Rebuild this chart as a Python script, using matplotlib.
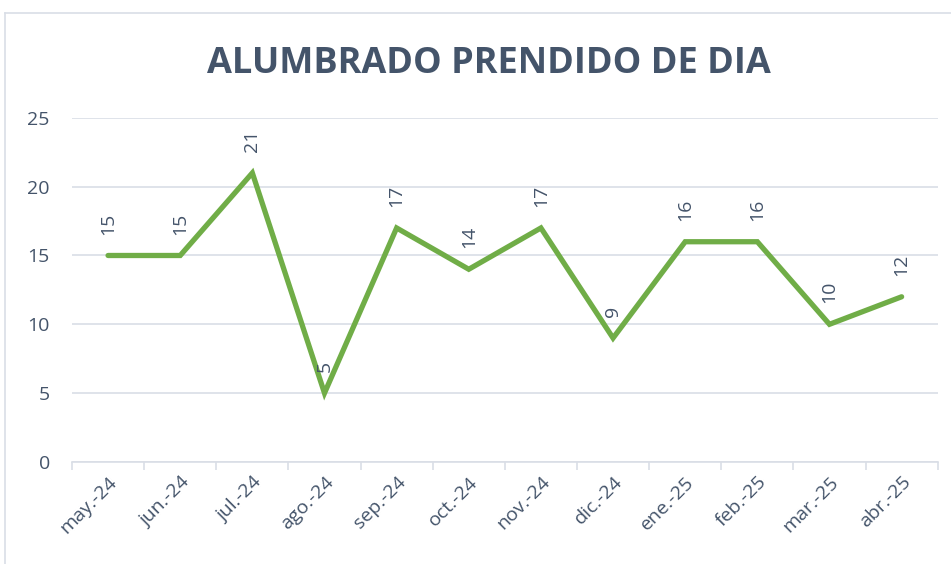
import matplotlib
matplotlib.use("Agg")
import matplotlib.pyplot as plt
from matplotlib.lines import Line2D

# data
months = ["may.-24", "jun.-24", "jul.-24", "ago.-24", "sep.-24", "oct.-24",
          "nov.-24", "dic.-24", "ene.-25", "feb.-25", "mar.-25", "abr.-25"]
values = [15, 15, 21, 5, 17, 14, 17, 9, 16, 16, 10, 12]
title = "ALUMBRADO PRENDIDO DE DIA"

text_col = "#44546A"
grid_col = "#D9DEE6"
line_col = "#70AD47"

plt.rcParams['font.family'] = ['Open Sans', 'DejaVu Sans']

fig = plt.figure(figsize=(9.51, 5.64), dpi=100)
ax = fig.add_axes([0.0757, 0.181, 0.9103, 0.610])

x = list(range(len(months)))
ax.plot(x, values, color=line_col, lw=3.8, solid_joinstyle='miter', solid_capstyle='round', zorder=3)

# data labels, rotated
for xi, v in zip(x, values):
    ax.annotate(str(v), (xi, v), xytext=(0, 15), textcoords='offset points',
                rotation=90, ha='center', va='bottom', fontsize=14, color=text_col)

ax.set_xlim(-0.5, len(months) - 0.5)
ax.set_ylim(0, 25)
ax.set_yticks([0, 5, 10, 15, 20, 25])
ax.yaxis.grid(True, color=grid_col, lw=1.2)
ax.set_axisbelow(True)
for s in ["left", "right", "top"]:
    ax.spines[s].set_visible(False)
ax.spines["bottom"].set_color(grid_col)
ax.spines["bottom"].set_linewidth(1.2)

ax.tick_params(axis='y', length=0, pad=16, labelsize=14, labelcolor=text_col)
ax.set_xticks(x)
ax.set_xticklabels(months, rotation=45, ha='right', rotation_mode='anchor',
                   fontsize=14, color=text_col)
ax.tick_params(axis='x', length=0, pad=8)
# tick marks at category boundaries
ax.set_xticks([i - 0.5 for i in range(len(months) + 1)], minor=True)
ax.tick_params(axis='x', which='minor', length=6, color=grid_col, width=1.2)

fig.text(0.514, 0.886, title, ha='center', va='center', fontsize=26,
         fontweight='bold', color=text_col)

# chart border
fig.add_artist(Line2D([5/951, 5/951], [0, 1 - 13/564], transform=fig.transFigure, color=grid_col, lw=1.2))
fig.add_artist(Line2D([5/951, 1], [1 - 13/564, 1 - 13/564], transform=fig.transFigure, color=grid_col, lw=1.2))

fig.savefig("out.png", dpi=100)
